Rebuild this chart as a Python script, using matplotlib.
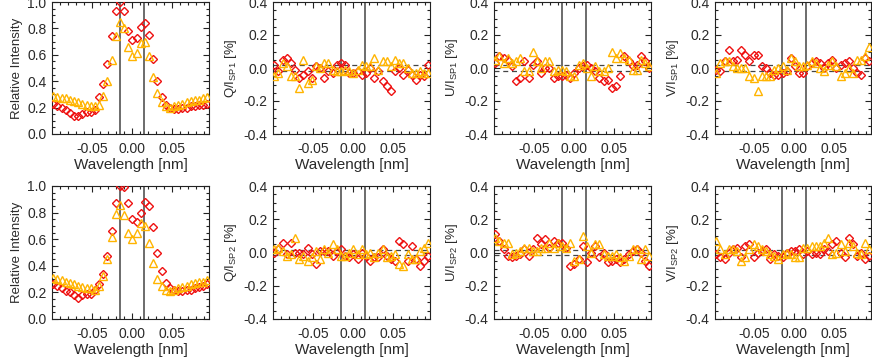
import matplotlib
matplotlib.use("Agg")
import matplotlib.pyplot as plt
from matplotlib.ticker import MultipleLocator, FormatStrFormatter

plt.rcParams['font.family'] = ['Liberation Sans', 'DejaVu Sans']
plt.rcParams['mathtext.fontset'] = 'custom'
plt.rcParams['mathtext.rm'] = 'Liberation Sans'
plt.rcParams['mathtext.default'] = 'regular'
plt.rcParams['axes.unicode_minus'] = False

# wavelength grid [nm]
wavelength = [-0.0980, -0.0928, -0.0876, -0.0824, -0.0772, -0.0720, -0.0668, -0.0616,
              -0.0564, -0.0512, -0.0460, -0.0408, -0.0356, -0.0304, -0.0252, -0.0200,
              -0.0148, -0.0096, -0.0044, 0.0008, 0.0060, 0.0112, 0.0164, 0.0216,
              0.0268, 0.0320, 0.0372, 0.0424, 0.0476, 0.0528, 0.0580, 0.0632,
              0.0684, 0.0736, 0.0788, 0.0840, 0.0892, 0.0944]
filter_edges = [-0.0152, 0.0152]
noise_level = [-0.018, 0.018]

# SP1 (top row)
i_sp1_red = [0.23, 0.21, 0.20, 0.18, 0.16, 0.14, 0.14, 0.15, 0.17, 0.17,
             0.18, 0.28, 0.38, 0.53, 0.74, 0.93, 1.00, 0.93, 0.78, 0.71,
             0.73, 0.81, 0.84, 0.75, 0.57, 0.40, 0.28, 0.22, 0.20, 0.19,
             0.19, 0.20, 0.20, 0.21, 0.21, 0.22, 0.22, 0.23]
i_sp1_yel = [0.29, 0.28, 0.27, 0.27, 0.26, 0.25, 0.24, 0.23, 0.22, 0.21,
             0.21, 0.22, 0.29, 0.40, 0.56, 0.74, 0.85, 0.80, 0.66, 0.59,
             0.61, 0.69, 0.70, 0.59, 0.43, 0.31, 0.24, 0.21, 0.20, 0.21,
             0.22, 0.23, 0.24, 0.25, 0.26, 0.26, 0.27, 0.28]
q_sp1_red = [0.02, -0.02, 0.05, 0.06, 0.03, -0.01, -0.06, -0.04, -0.02, -0.06,
             0.01, 0.00, -0.06, -0.02, -0.03, 0.02, 0.03, 0.02, -0.03, -0.03,
             -0.02, -0.04, -0.03, 0.00, -0.06, -0.02, -0.08, -0.11, -0.14, -0.02,
             0.00, -0.04, -0.01, -0.04, -0.07, -0.04, -0.05, 0.02]
q_sp1_yel = [-0.05, -0.03, 0.03, 0.01, -0.05, -0.05, -0.12, 0.05, -0.09, -0.07,
             0.01, 0.00, 0.03, 0.03, -0.01, -0.02, -0.02, -0.01, -0.02, -0.03,
             -0.01, 0.02, 0.01, 0.01, 0.06, -0.01, 0.04, 0.04, 0.01, 0.05,
             0.03, 0.03, 0.00, -0.03, -0.03, -0.02, -0.03, -0.03]
u_sp1_red = [0.03, 0.07, 0.06, 0.05, 0.01, -0.08, -0.06, 0.04, -0.06, 0.02,
             0.04, -0.03, 0.00, 0.00, -0.06, -0.05, -0.05, -0.04, -0.06, -0.03,
             0.00, 0.01, 0.02, 0.00, -0.02, -0.06, -0.08, -0.07, -0.12, -0.11,
             -0.05, 0.07, 0.04, 0.01, 0.02, 0.07, 0.04, 0.00]
u_sp1_yel = [0.05, 0.07, 0.03, 0.06, 0.03, 0.04, 0.06, -0.02, -0.02, 0.10,
             0.04, 0.00, 0.04, 0.04, -0.02, -0.01, -0.01, -0.02, -0.05, -0.05,
             0.02, 0.03, 0.00, -0.05, 0.01, -0.02, -0.02, 0.00, 0.10, 0.06,
             0.09, 0.06, 0.05, -0.01, -0.01, 0.05, 0.03, 0.01]
v_sp1_red = [-0.01, -0.02, 0.04, 0.11, 0.04, 0.05, 0.11, 0.08, 0.04, 0.08,
             0.08, 0.01, 0.00, -0.03, -0.04, -0.04, -0.03, -0.02, 0.06, 0.01,
             -0.03, -0.03, 0.01, 0.03, 0.04, 0.03, 0.00, 0.03, 0.05, 0.00,
             0.02, 0.03, 0.04, 0.00, -0.03, -0.04, 0.06, 0.04]
v_sp1_yel = [-0.03, 0.03, 0.04, 0.04, 0.01, 0.00, 0.00, 0.00, -0.05, -0.06,
             -0.14, -0.05, -0.05, -0.05, -0.01, 0.00, 0.01, -0.01, 0.06, 0.04,
             0.01, 0.01, 0.02, 0.04, 0.03, 0.00, -0.02, 0.02, 0.04, 0.01,
             -0.05, -0.03, 0.00, -0.03, 0.05, 0.05, 0.07, 0.13]

# SP2 (bottom row)
i_sp2_red = [0.26, 0.25, 0.23, 0.21, 0.20, 0.18, 0.16, 0.18, 0.19, 0.19,
             0.22, 0.26, 0.34, 0.47, 0.66, 0.87, 1.00, 0.99, 0.87, 0.75,
             0.73, 0.80, 0.88, 0.85, 0.69, 0.50, 0.36, 0.27, 0.23, 0.22,
             0.21, 0.21, 0.22, 0.22, 0.23, 0.24, 0.25, 0.26]
i_sp2_yel = [0.31, 0.30, 0.29, 0.28, 0.27, 0.26, 0.25, 0.24, 0.23, 0.23,
             0.22, 0.25, 0.32, 0.45, 0.62, 0.79, 0.86, 0.78, 0.65, 0.60,
             0.65, 0.72, 0.70, 0.57, 0.42, 0.30, 0.25, 0.22, 0.21, 0.22,
             0.23, 0.24, 0.25, 0.26, 0.27, 0.28, 0.28, 0.29]
q_sp2_red = [0.00, 0.02, 0.06, -0.01, 0.06, 0.00, 0.00, -0.01, 0.03, -0.01,
             -0.07, 0.01, 0.01, 0.01, -0.02, 0.01, 0.02, -0.02, -0.03, -0.01,
             -0.04, 0.00, -0.02, -0.05, -0.03, -0.03, 0.02, -0.02, -0.04, -0.05,
             0.07, 0.05, -0.05, 0.04, -0.04, -0.08, -0.05, -0.02]
q_sp2_yel = [0.02, 0.03, 0.01, -0.02, -0.01, 0.09, -0.04, -0.02, -0.05, -0.03,
             0.01, -0.04, 0.02, 0.00, 0.05, 0.02, -0.02, -0.02, 0.00, 0.02,
             -0.01, 0.02, -0.01, 0.00, -0.03, 0.00, 0.02, -0.03, -0.02, -0.01,
             -0.07, -0.08, -0.01, -0.04, -0.04, 0.01, 0.03, 0.06]
u_sp2_red = [0.11, 0.07, 0.02, -0.02, -0.03, -0.02, -0.01, 0.02, -0.02, 0.02,
             0.09, 0.05, 0.08, 0.03, 0.07, 0.06, 0.06, 0.03, -0.08, -0.07,
             -0.04, 0.04, -0.06, 0.00, 0.04, -0.03, 0.00, -0.06, -0.05, -0.04,
             -0.06, -0.04, -0.01, 0.01, 0.02, 0.00, -0.05, -0.08]
u_sp2_yel = [0.09, 0.07, 0.06, 0.06, -0.01, 0.00, 0.01, 0.03, 0.03, 0.01,
             0.01, 0.03, 0.03, 0.06, 0.03, 0.06, 0.04, 0.03, 0.06, -0.05,
             -0.04, 0.10, 0.04, 0.00, 0.05, 0.05, -0.01, -0.02, -0.02, -0.01,
             -0.03, -0.05, -0.02, 0.02, 0.02, -0.04, 0.02, -0.02]
v_sp2_red = [-0.01, -0.03, -0.04, 0.00, 0.02, 0.03, -0.03, 0.04, 0.05, -0.03,
             0.00, 0.01, 0.02, -0.04, -0.01, -0.02, -0.03, 0.00, 0.01, 0.01,
             0.02, -0.01, 0.01, -0.01, 0.00, -0.01, 0.02, 0.01, 0.05, 0.07,
             0.00, -0.03, 0.09, 0.05, -0.02, 0.00, -0.04, -0.02]
v_sp2_yel = [0.07, 0.02, -0.01, 0.02, 0.02, 0.01, -0.05, -0.03, 0.02, 0.05,
             0.04, 0.02, 0.01, -0.01, -0.02, -0.04, -0.01, 0.00, -0.01, -0.03,
             -0.03, 0.03, 0.03, 0.04, 0.04, 0.04, 0.06, 0.09, -0.01, 0.00,
             0.05, 0.01, 0.06, 0.04, 0.00, -0.01, 0.06, 0.02]

panels = [
    (0, 0, 'Relative Intensity', i_sp1_red, i_sp1_yel),
    (0, 1, 'Q/I$_{SP1}$ [%]', q_sp1_red, q_sp1_yel),
    (0, 2, 'U/I$_{SP1}$ [%]', u_sp1_red, u_sp1_yel),
    (0, 3, 'V/I$_{SP1}$ [%]', v_sp1_red, v_sp1_yel),
    (1, 0, 'Relative Intensity', i_sp2_red, i_sp2_yel),
    (1, 1, 'Q/I$_{SP2}$ [%]', q_sp2_red, q_sp2_yel),
    (1, 2, 'U/I$_{SP2}$ [%]', u_sp2_red, u_sp2_yel),
    (1, 3, 'V/I$_{SP2}$ [%]', v_sp2_red, v_sp2_yel),
]

W, H = 872, 363
fig = plt.figure(figsize=(W / 100, H / 100), dpi=100)
txt = '#2a2a2a'
row_px = [(2, 134), (186, 319)]

for row, col, ylab, red, yel in panels:
    x0 = 52 + 221 * col
    x1 = min(x0 + 157, 871)
    top, bot = row_px[row]
    ax = fig.add_axes([x0 / W, 1 - bot / H, (x1 - x0) / W, (bot - top) / H])

    for xv in filter_edges:
        ax.axvline(xv, color='#444444', lw=1.1, zorder=1)
    intensity = col == 0
    if not intensity:
        for yv in noise_level:
            ax.axhline(yv, color='#444444', lw=0.9, ls=(0, (4, 3)), zorder=1)

    ax.plot(wavelength, red, ls='none', marker='D', ms=3.7, mfc='none',
            mec='#ee1111', mew=1.0, zorder=3)
    ax.plot(wavelength, yel, ls='none', marker='^', ms=5.3, mfc='none',
            mec='#ffb400', mew=1.0, zorder=4)

    ax.set_xlim(-0.0996, 0.0963)
    ax.xaxis.set_major_locator(MultipleLocator(0.05))
    ax.xaxis.set_minor_locator(MultipleLocator(0.01))
    ax.xaxis.set_major_formatter(FormatStrFormatter('%.2f'))
    if intensity:
        ax.set_ylim(0, 1.0)
    else:
        ax.set_ylim(-0.4, 0.4)
    ax.yaxis.set_major_locator(MultipleLocator(0.2))
    ax.yaxis.set_minor_locator(MultipleLocator(0.05))
    ax.yaxis.set_major_formatter(FormatStrFormatter('%.1f'))

    ax.tick_params(which='both', direction='in', top=True, right=True,
                   width=0.8, colors='#222222', labelsize=10, labelcolor=txt)
    ax.tick_params(axis='x', which='major', length=4, pad=6)
    ax.tick_params(axis='y', which='major', length=4, pad=4)
    ax.tick_params(which='minor', length=2)
    for sp in ax.spines.values():
        sp.set_linewidth(0.8)
        sp.set_color('#222222')

    ax.set_xlabel('Wavelength [nm]', fontsize=11, color=txt, labelpad=1)
    ax.set_ylabel(ylab, fontsize=9.5, color=txt, labelpad=3)

fig.savefig('out.png', dpi=100)
